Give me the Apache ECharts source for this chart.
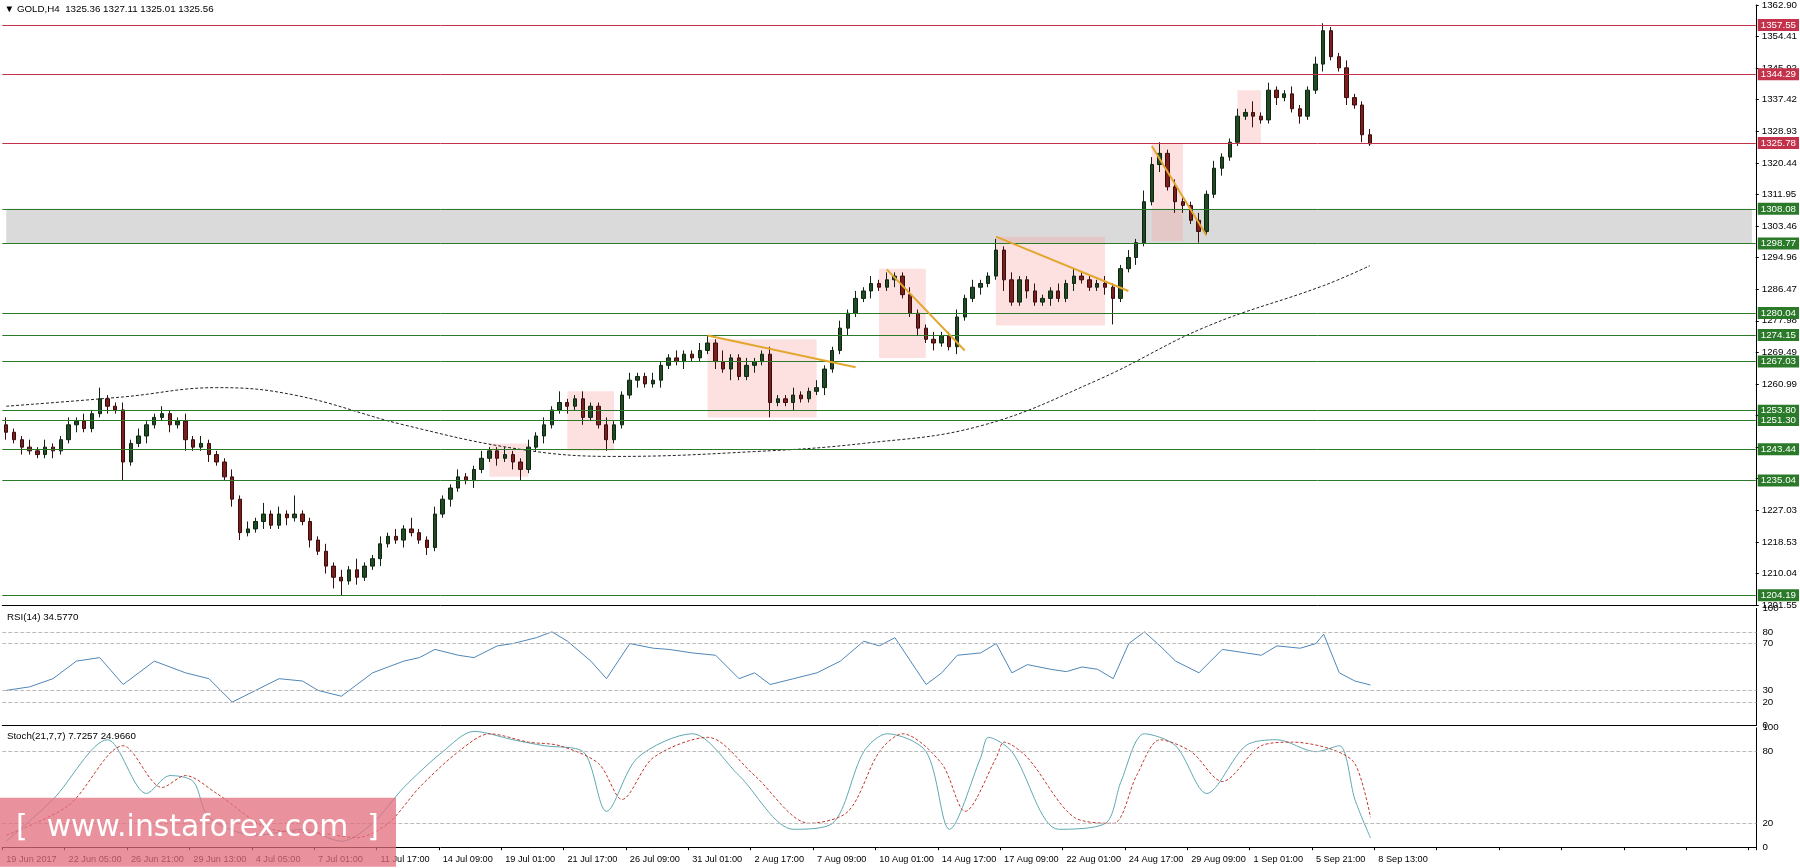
<!DOCTYPE html>
<html>
<head>
<meta charset="utf-8">
<script src="https://cdn.jsdelivr.net/npm/echarts@6/dist/echarts.min.js"></script>
<style>
  html, body { margin: 0; padding: 0; background: #fff; }
  #chart { width: 1800px; height: 868px; }
</style>
</head>
<body>
<div id="chart"></div>
<script>
// H4 closes (one candle = 8h here)
const closes = [1248,1246,1244,1243,1242,1244,1243,1246,1250,1251,1249,1253,1257,1255,1254,1240,1245,1247,1250,1252,
  1253,1250,1251,1246,1244,1245,1242,1240,1236,1230,1221,1222,1224,1226,1223,1226,1225,1226,1224,1219,
  1216,1212,1209,1208,1211,1209,1212,1214,1218,1220,1219,1222,1221,1219,1217,1226,1230,1233,1236,1235,
  1238,1241,1243,1241,1242,1240,1238,1244,1247,1250,1254,1256,1255,1257,1252,1255,1250,1246,1250,1258,
  1262,1263,1261,1262,1266,1268,1267,1269,1268,1270,1272,1267,1265,1268,1263,1266,1267,1269,1256,1257,
  1256,1258,1257,1259,1260,1265,1270,1276,1280,1284,1286,1288,1287,1289,1290,1285,1280,1276,1273,1272,
  1274,1271,1279,1284,1287,1288,1290,1297,1289,1283,1289,1286,1283,1284,1286,1284,1288,1290,1289,1287,
  1288,1287,1284,1292,1295,1299,1310,1320,1323,1314,1310,1309,1305,1302,1312,1319,1322,1326,1333,1334,
  1333,1332,1340,1338,1339,1335,1333,1340,1347,1356,1349,1346,1338,1336,1328,1325.56];
const upWick = [2,1,1,2,1,2,1,1,2,1,2,1,3,1,1,2,1,2,1,1,
  2,1,1,2,1,2,1,1,1,2,1,2,1,3,1,2,1,5,1,1,
  1,2,1,2,1,3,1,1,2,1,2,1,3,1,1,2,1,1,2,1,
  1,2,1,1,2,1,1,2,1,2,1,3,1,1,2,1,1,2,1,1,
  2,1,1,2,1,1,2,1,1,2,2,1,3,1,1,2,1,1,2,1,
  1,2,1,1,2,1,1,2,1,2,1,2,1,2,1,1,2,1,1,2,
  1,1,2,1,2,1,1,3,1,2,1,1,2,1,1,2,1,2,1,1,
  1,2,1,1,2,1,3,2,3,1,2,1,1,2,1,2,1,1,2,1,
  3,1,2,1,1,2,1,1,2,2,1,1,2,1,1,1.55];
const downWick = [2,1,2,1,1,1,2,1,1,2,1,1,1,2,1,5,1,1,2,1,
  1,2,1,3,1,1,2,1,1,2,2,1,1,2,1,1,2,1,1,2,
  1,2,3,4,1,2,1,1,2,1,1,2,1,1,2,1,1,2,1,1,
  2,1,1,2,1,2,3,1,1,2,1,1,2,1,2,1,1,3,1,1,
  1,2,1,1,2,1,1,2,1,1,1,2,1,3,1,1,2,1,4,1,
  1,2,1,1,1,2,1,1,2,1,1,2,1,1,2,1,1,2,1,2,
  1,1,2,1,1,2,1,1,3,1,1,2,1,1,2,1,1,2,1,1,
  1,2,7,1,1,2,1,1,2,1,3,2,1,3,1,1,2,1,1,1,
  3,1,1,2,1,1,2,1,1,2,1,1,2,1,2,0.55];
const firstOpen = 1250;
const emptySlots = 49;

// dashed moving average
const maIdx = [0,15,27,37,51,66,78,96,110,125,140,154,169,175];
const maVals = [1255,1257.5,1260,1258,1250,1243.4,1241.5,1242.8,1245,1249.7,1262,1276.4,1287.4,1292.8];

const rsiIdx = [0,3,6,9,12,15,17,19,21,23,26,29,32,35,38,40,43,45,47,49,51,53,55,58,60,63,65,68,70,72,75,77,80,83,85,88,91,94,96,98,101,104,107,110,112,114,116,118,120,122,125,127,129,131,134,136,138,140,142,144,146,148,150,153,156,159,161,163,166,168,169,171,173,175];
const rsiVals = [30,33,40,55,58,35,45,55,50,45,40,20,30,40,38,30,25,35,45,50,55,58,65,60,58,68,70,75,80,72,55,40,70,66,65,62,60,40,45,35,40,45,55,72,68,75,55,35,45,60,62,70,45,52,48,46,50,48,40,70,80,68,55,45,65,62,60,68,66,70,78,45,38,34.6];

const stochIdx = [0,6,13,18,21,24,26,32,38,43,47,51,56,60,65,69,74,77,81,88,94,101,106,110,113,118,121,125,126,129,135,141,143,146,150,154,159,163,168,171,173,175];
const stochMain = [5,40,90,45,60,55,25,10,15,5,20,50,80,97,90,85,80,30,75,95,60,15,20,80,95,80,15,75,92,80,15,20,55,95,85,45,85,90,80,85,40,7.7];
const signalIdx = [0,8,15,20,23,27,34,40,45,49,53,58,62,67,71,76,79,83,90,96,103,108,112,115,120,123,127,128,131,137,142,145,148,152,156,161,165,170,173,175];
const signalVals = [10,35,85,50,60,45,15,12,8,20,50,80,95,88,85,70,40,75,92,60,20,30,80,95,70,30,75,88,75,25,20,60,90,80,55,85,88,82,70,25];

const tickLabels = ['19 Jun 2017','22 Jun 05:00','26 Jun 21:00','29 Jun 13:00','4 Jul 05:00','7 Jul 01:00','11 Jul 17:00',
  '14 Jul 09:00','19 Jul 01:00','21 Jul 17:00','26 Jul 09:00','31 Jul 01:00','2 Aug 17:00','7 Aug 09:00','10 Aug 01:00',
  '14 Aug 17:00','17 Aug 09:00','22 Aug 01:00','24 Aug 17:00','29 Aug 09:00','1 Sep 01:00','5 Sep 21:00','8 Sep 13:00'];

const redLevels = [1357.55, 1344.29, 1325.78];
const greenLevels = [1308.08, 1298.77, 1280.04, 1274.15, 1267.03, 1253.80, 1251.30, 1243.44, 1235.04, 1204.19];

// pink boxes [fromIdx, toIdx, low, high]
const boxes = [[62,67,1236,1245],[72,78,1243,1259],[90,104,1252,1273],[112,118,1268,1292],[127,141,1276.7,1300.6],[147,151,1299.4,1325.8],[158,161,1325.8,1340]];
// gold trend lines [idx1, price1, idx2, price2]
const trends = [[90,1274,109,1265.5],[113,1291.8,123,1270],[127,1300.6,144,1286],[147,1325,154,1301]];

const S = 1800 / 1568;
const nSlots = closes.length + emptySlots;
const cats = [];
for (let i = 0; i < nSlots; i++) cats.push(String(i));

const candles = [];
let prev = firstOpen;
closes.forEach((c, i) => {
  const o = prev;
  candles.push([o, c, Math.min(o, c) - downWick[i], Math.max(o, c) + upWick[i]]);
  prev = c;
});

const pairs = (idx, vals) => idx.map((x, i) => [x, vals[i]]);

const chart = echarts.init(document.getElementById('chart'));
const fs = 8.5 * S;
const axisText = { color: '#000', fontSize: fs, fontFamily: 'Liberation Sans' };

const gridL = 2 * S, gridW = 1528 * S;
const grids = [
  { left: gridL, top: 2 * S, width: gridW, height: 525 * S },
  { left: gridL, top: 530 * S, width: gridW, height: 102 * S },
  { left: gridL, top: 634 * S, width: gridW, height: 104 * S }
];

const xAxes = [0, 1, 2].map(g => ({
  type: 'category', gridIndex: g, data: cats, boundaryGap: true,
  axisLine: { show: true, lineStyle: { color: '#000' } },
  axisTick: { show: g === 2, interval: 7, length: 3, lineStyle: { color: '#000' } },
  axisLabel: {
    show: g === 2, interval: 7, align: 'left', ...axisText, fontSize: 8 * S,
    formatter: (v, i) => tickLabels[i / 8] || ''
  },
  splitLine: { show: false }
}));

const yAxes = [
  { type: 'value', gridIndex: 0, position: 'right', min: 1201.55, max: 1362.9, interval: 161.35 / 19,
    axisLine: { show: true, lineStyle: { color: '#000' } }, axisTick: { show: true, length: 3 },
    axisLabel: { ...axisText, margin: 6, formatter: v => v.toFixed(2) }, splitLine: { show: false } },
  { type: 'value', gridIndex: 1, position: 'right', min: 0, max: 100, interval: 10,
    axisLine: { show: true, lineStyle: { color: '#000' } }, axisTick: { show: false },
    axisLabel: { ...axisText, margin: 6, formatter: v => [0, 20, 30, 70, 80, 100].includes(v) ? v : '' }, splitLine: { show: false } },
  { type: 'value', gridIndex: 2, position: 'right', min: 0, max: 100, interval: 10,
    axisLine: { show: true, lineStyle: { color: '#000' } }, axisTick: { show: false },
    axisLabel: { ...axisText, margin: 6, formatter: v => [0, 20, 80, 100].includes(v) ? v : '' }, splitLine: { show: false } }
];

const levelLine = (v, color) => ({
  yAxis: v,
  lineStyle: { color: color, width: 1, type: 'solid' },
  label: { show: true, position: 'end', distance: 2, formatter: v.toFixed(2), color: '#fff', backgroundColor: color,
    fontSize: fs, fontFamily: 'Liberation Sans', padding: [1, 3] }
});

const dashed = (vals) => vals.map(v => ({ yAxis: v, lineStyle: { color: '#bbb', type: 'dashed', width: 1 }, label: { show: false } }));

chart.setOption({
  animation: false,
  grid: grids,
  xAxis: xAxes,
  yAxis: yAxes,
  series: [
    {
      type: 'candlestick', xAxisIndex: 0, yAxisIndex: 0, data: candles, barMaxWidth: 5 * S,
      itemStyle: { color: '#1f4a24', color0: '#7a1e1e', borderColor: '#10250f', borderColor0: '#3a0d0d', borderWidth: 1 },
      markLine: {
        symbol: 'none', silent: true, animation: false,
        data: redLevels.map(v => levelLine(v, '#c4314b')).concat(greenLevels.map(v => levelLine(v, '#2a7a2a')))
          .concat(trends.map(t => [
            { coord: [t[0], t[1]], lineStyle: { color: '#e3a72f', width: 2, type: 'solid' }, label: { show: false } },
            { coord: [t[2], t[3]] }
          ]))
      },
      markArea: {
        silent: true,
        data: [[{ xAxis: 0, yAxis: 1298.77, itemStyle: { color: 'rgba(150,150,150,0.35)' } }, { xAxis: nSlots - 1, yAxis: 1308.08 }]]
          .concat(boxes.map(b => [
            { xAxis: b[0], yAxis: b[2], itemStyle: { color: 'rgba(250,170,170,0.35)' } },
            { xAxis: b[1], yAxis: b[3] }
          ]))
      }
    },
    {
      type: 'line', xAxisIndex: 0, yAxisIndex: 0, data: pairs(maIdx, maVals), smooth: 0.4, showSymbol: false,
      lineStyle: { color: '#222', width: 1, type: [3, 2] }, z: 1
    },
    {
      type: 'line', xAxisIndex: 1, yAxisIndex: 1, data: pairs(rsiIdx, rsiVals), showSymbol: false,
      lineStyle: { color: '#4f86b8', width: 1 },
      markLine: { symbol: 'none', silent: true, data: dashed([20, 30, 70, 80]) }
    },
    {
      type: 'line', xAxisIndex: 2, yAxisIndex: 2, data: pairs(stochIdx, stochMain), smooth: 0.3, showSymbol: false,
      lineStyle: { color: '#5fa8b3', width: 1 },
      markLine: { symbol: 'none', silent: true, data: dashed([20, 80]) }
    },
    {
      type: 'line', xAxisIndex: 2, yAxisIndex: 2, data: pairs(signalIdx, signalVals), smooth: 0.3, showSymbol: false,
      lineStyle: { color: '#c0392b', width: 1, type: [3, 2] }
    }
  ],
  graphic: [
    { type: 'text', left: 4 * S, top: 4 * S, style: { text: '\u25BC GOLD,H4  1325.36 1327.11 1325.01 1325.56', fontSize: fs, fill: '#000', fontFamily: 'Liberation Sans' } },
    { type: 'text', left: 6 * S, top: 533 * S, style: { text: 'RSI(14) 34.5770', fontSize: fs, fill: '#000', fontFamily: 'Liberation Sans' } },
    { type: 'text', left: 6 * S, top: 637 * S, style: { text: 'Stoch(21,7,7) 7.7257 24.9660', fontSize: fs, fill: '#000', fontFamily: 'Liberation Sans' } },
    { type: 'rect', left: 0, top: 695 * S, shape: { width: 345 * S, height: 60 * S }, style: { fill: 'rgba(225,110,125,0.75)' }, z: 100 },
    { type: 'text', left: 14 * S, top: 708 * S, z: 101, style: { text: '[  www.instaforex.com  ]', fontSize: 26 * S, fill: '#fff', fontFamily: 'DejaVu Sans' } }
  ]
});
</script>
</body>
</html>
